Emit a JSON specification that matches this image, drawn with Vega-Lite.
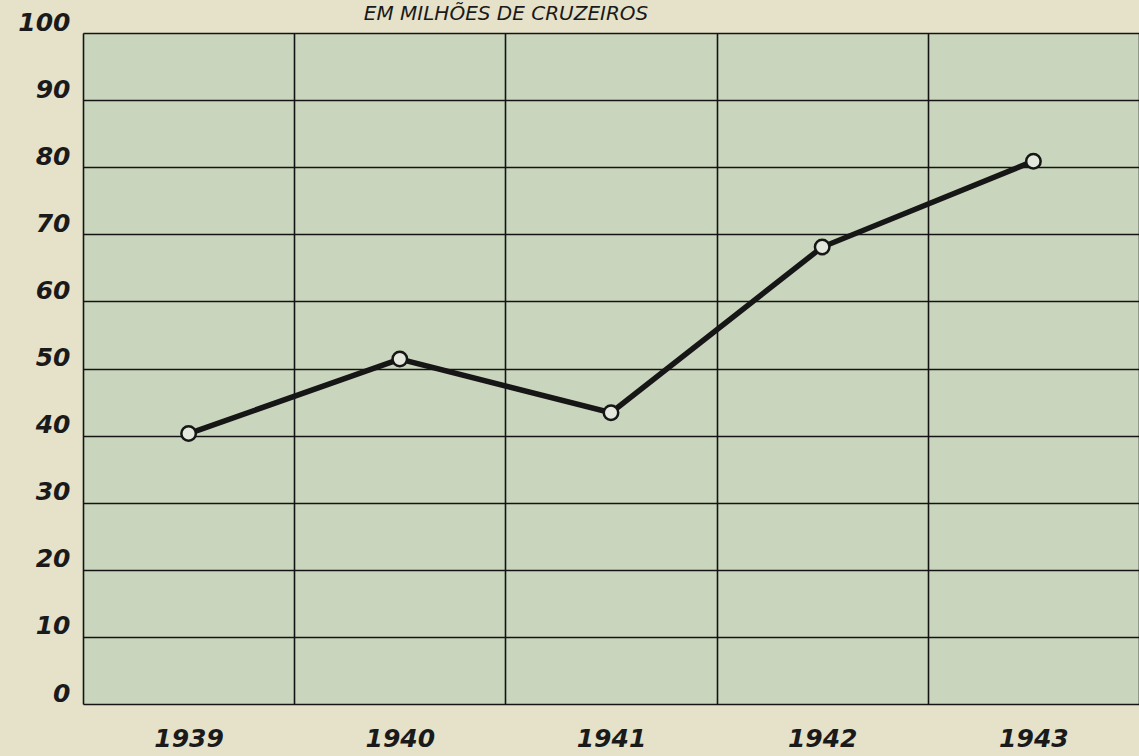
{
  "$schema": "https://vega.github.io/schema/vega-lite/v6.json",
  "autosize": "none",
  "padding": {"left": 83, "top": 33, "right": 0, "bottom": 52},
  "width": 1056,
  "height": 671,
  "background": "#e6e2c9",
  "view": {"fill": "#c9d6bd", "stroke": null},
  "title": {
    "text": "EM MILHÕES DE CRUZEIROS",
    "anchor": "start",
    "dx": 346,
    "offset": -30,
    "baseline": "alphabetic",
    "font": "DejaVu Sans",
    "fontStyle": "italic",
    "fontWeight": "normal",
    "fontSize": 20,
    "color": "#1a1a1a"
  },
  "data": {
    "values": [
      {"ano": "1939", "valor": 40.3},
      {"ano": "1940", "valor": 51.4},
      {"ano": "1941", "valor": 43.4},
      {"ano": "1942", "valor": 68.1},
      {"ano": "1943", "valor": 80.9}
    ]
  },
  "encoding": {
    "x": {
      "field": "ano",
      "type": "ordinal",
      "scale": {"paddingInner": 0, "paddingOuter": 0},
      "axis": {
        "title": null,
        "labelAngle": 0,
        "tickBand": "extent",
        "grid": true,
        "gridColor": "#141414",
        "gridWidth": 1.6,
        "gridOpacity": 1,
        "domain": false,
        "ticks": false,
        "labelPadding": 22,
        "labelFont": "DejaVu Sans",
        "labelFontStyle": "italic",
        "labelFontWeight": "bold",
        "labelFontSize": 25,
        "labelColor": "#1a1a1a"
      }
    },
    "y": {
      "field": "valor",
      "type": "quantitative",
      "scale": {"domain": [0, 100], "nice": false},
      "axis": {
        "title": null,
        "values": [0, 10, 20, 30, 40, 50, 60, 70, 80, 90, 100],
        "grid": true,
        "gridColor": "#141414",
        "gridWidth": 1.6,
        "gridOpacity": 1,
        "domain": false,
        "ticks": false,
        "labelOffset": -11,
        "labelPadding": 13,
        "labelFont": "DejaVu Sans",
        "labelFontStyle": "italic",
        "labelFontWeight": "bold",
        "labelFontSize": 25,
        "labelColor": "#1a1a1a"
      }
    }
  },
  "layer": [
    {
      "mark": {"type": "line", "color": "#161616", "strokeWidth": 5.5}
    },
    {
      "mark": {"type": "point", "shape": "circle", "filled": true, "fill": "#e4e8dc", "stroke": "#161616", "strokeWidth": 2.5, "size": 210, "opacity": 1}
    }
  ]
}
